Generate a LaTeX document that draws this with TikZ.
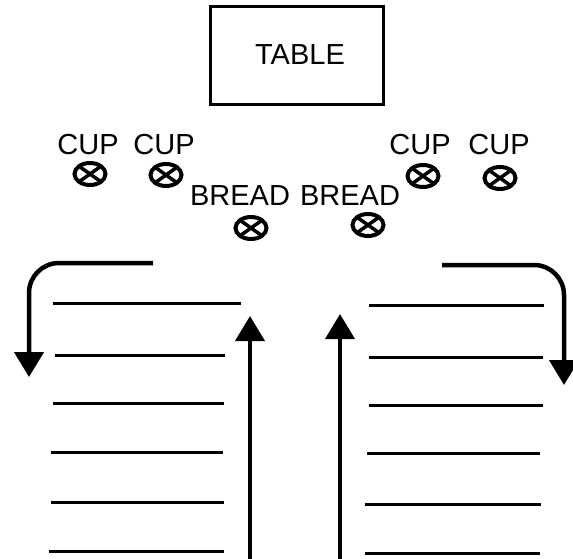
\documentclass[tikz,border=0pt]{standalone}
\usepackage{fontspec}
\setmainfont{Liberation Sans}
\usetikzlibrary{arrows.meta,shapes.geometric}
\begin{document}
\begin{tikzpicture}[x=1pt,y=-1pt,
  lbl/.style={inner sep=0pt, font=\fontsize{29}{29}\selectfont, anchor=base},
  tablebox/.style={draw, line width=3pt, minimum width=173pt, minimum height=98pt, inner sep=0pt},
  cupsym/.style={ellipse, draw, line width=4pt, minimum width=31pt, minimum height=22pt, inner sep=0pt,
    path picture={\draw[line width=3.5pt]
      (path picture bounding box.north west) -- (path picture bounding box.south east)
      (path picture bounding box.north east) -- (path picture bounding box.south west);}},
  row/.style={line width=3pt},
  turn/.style={line width=4.5pt, rounded corners=30pt, -{Triangle[length=25pt,width=29pt]}},
  walk/.style={line width=4pt, -{Triangle[length=25pt,width=29pt]}}]
\useasboundingbox (0,0) rectangle (573,559);

% table
\node[tablebox] (table) at (296.5,56) {};
\node[lbl] (tabletxt) at (300,65) {TABLE};

% cups
\node[lbl] (cuptxt1) at (88,155) {CUP};
\node[lbl] (cuptxt2) at (164,155) {CUP};
\node[lbl] (cuptxt3) at (420,155) {CUP};
\node[lbl] (cuptxt4) at (499,155) {CUP};
\node[cupsym] (cup1) at (90,174) {};
\node[cupsym] (cup2) at (166,175) {};
\node[cupsym] (cup3) at (423,176) {};
\node[cupsym] (cup4) at (500,178) {};

% bread
\node[lbl] (breadtxt1) at (240,205) {BREAD};
\node[lbl] (breadtxt2) at (350,205) {BREAD};
\node[cupsym] (bread1) at (251,228) {};
\node[cupsym] (bread2) at (368,225) {};

% rows
\draw[row] (53,303) -- (241,303);
\foreach \y/\a/\b in {355/55/225, 403/53/224, 452/51/223, 502/51/224, 551/49/224}
  \draw[row] (\a,\y) -- (\b,\y);
\foreach \y/\a/\b in {305/369/544, 357/369/543, 405/369/543, 453/367/540, 504/365/541, 553/365/540}
  \draw[row] (\a,\y) -- (\b,\y);

% turning arrows
\coordinate (ls) at (153,263);
\coordinate (lc) at (29,263);
\coordinate (le) at (29,377);
\coordinate (rs) at (442,265);
\coordinate (rc) at (564,265);
\coordinate (re) at (564,385);
\draw[turn] (ls) -- (lc) -- (le);
\draw[turn] (rs) -- (rc) -- (re);

% walking arrows
\coordinate (ub1) at (250,560);
\coordinate (ut1) at (250,316);
\coordinate (ub2) at (340,560);
\coordinate (ut2) at (340,314);
\draw[walk] (ub1) -- (ut1);
\draw[walk] (ub2) -- (ut2);
\end{tikzpicture}
\end{document}
